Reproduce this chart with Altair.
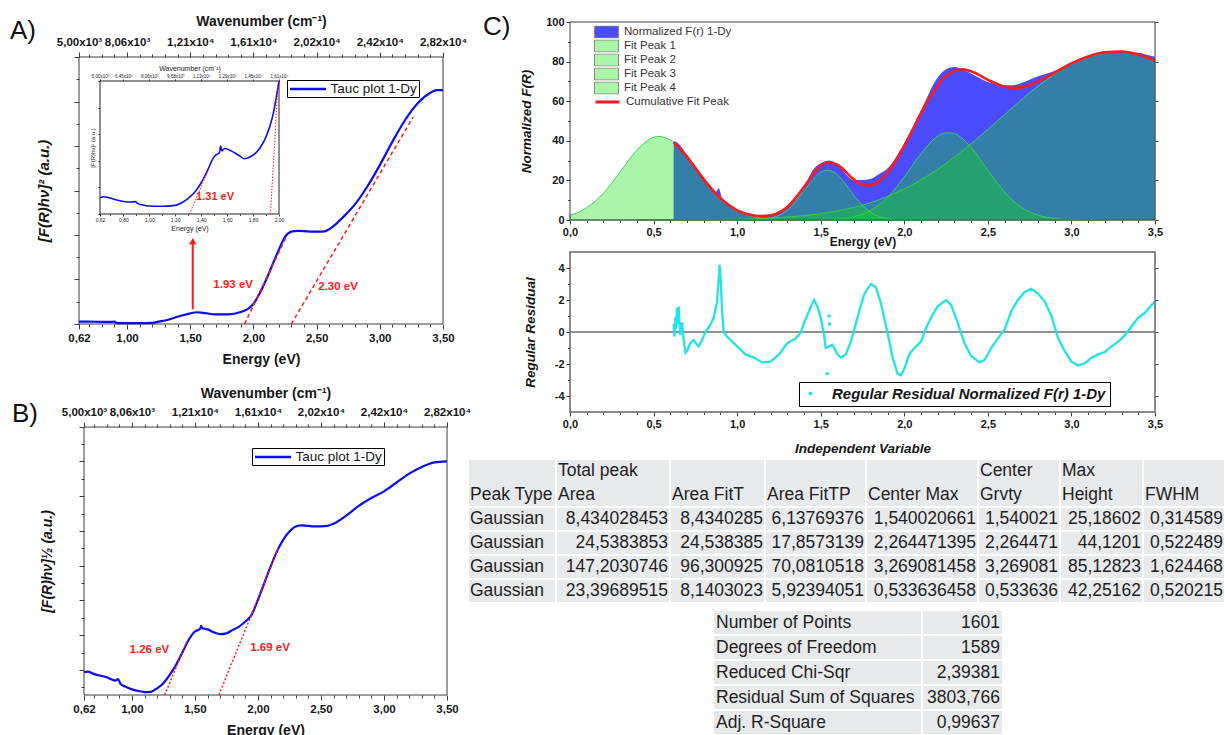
import altair as alt
import pandas as pd

W, H = 1225, 735
FONT = "Liberation Sans"
TXT = "#161616"
AX = "#3c3c3c"
BLUE = "#0b0bf5"
RED = "#ff1a1a"
CYAN = "#22e3e8"
DATA_FILL = "#4b4bff"
PEAK_FILL = "#0ce20c"
PEAK_LINE = "#3bcf57"
LEG_GREEN = "#aaf5aa"
CELL = "#e8e9eb"
EMSP = "\u2003"

# ---------------- values ----------------
# Panel A: Tauc plot [F(R)hv]^2 (a.u.)
A_ENERGY = [0.62, 0.70, 0.80, 0.88, 0.90, 0.92, 1.00, 1.10, 1.20, 1.25, 1.30, 1.40, 1.50, 1.55, 1.60, 1.70,
            1.80, 1.90, 1.95, 2.00, 2.05, 2.10, 2.15, 2.20, 2.25, 2.30, 2.35, 2.45, 2.55, 2.60, 2.65, 2.70,
            2.80, 2.90, 3.00, 3.10, 3.20, 3.30, 3.40, 3.45, 3.50]
A_SIGNAL = [0.9, 0.9, 0.8, 0.8, 0.9, 0.3, 0.3, 0.3, 0.4, 0.9, 1.3, 2.7, 4.0, 4.4, 4.2, 3.6,
            3.6, 4.5, 5.5, 7.5, 11.5, 16.5, 22.1, 27.7, 32.6, 34.6, 34.9, 34.6, 34.6, 35.5, 37.3, 39.6,
            44.6, 51.4, 59.5, 68.3, 76.4, 82.7, 86.6, 87.6, 87.6]
A_TAN_E0 = [1.93, 2.30]
A_TAN_E1 = [2.26, 3.265]
A_TAN_Y1 = [32.7, 77.6]
A_GAP_TEXT = ["1.93 eV", "2.30 eV"]
A_GAP_E = [1.84, 2.67]
A_GAP_Y = [14.6, 13.9]
A_ARROW_E = [1.52]
A_ARROW_Y0 = [5.5]
A_ARROW_Y1 = [31.0]

# Inset of panel A
I_ENERGY = [0.62, 0.65, 0.75, 0.85, 0.89, 0.91, 0.95, 1.00, 1.10, 1.20, 1.25, 1.30, 1.35, 1.40, 1.45,
            1.50, 1.52, 1.54, 1.55, 1.56, 1.58, 1.62, 1.70, 1.73, 1.78, 1.85, 1.90, 1.95, 1.98, 2.00]
I_SIGNAL = [12.3, 13.0, 10.5, 9.0, 9.3, 8.0, 6.8, 6.0, 5.8, 6.5, 8.5, 11.8, 16.3, 23.5, 33.0,
            43.0, 44.8, 46.0, 51.0, 47.5, 49.3, 48.0, 43.5, 41.5, 43.0, 49.3, 58.0, 73.0, 88.0, 100.0]
I_TAN_E0 = [1.31, 1.934]
I_TAN_E1 = [1.46, 1.994]
I_TAN_Y1 = [34.0, 100.0]
I_GAP_TEXT = ["1.31 eV"]
I_GAP_E = [1.507]
I_GAP_Y = [13.0]

# Panel B: [F(R)hv]^(1/2) (a.u.)
B_ENERGY = [0.62, 0.65, 0.70, 0.80, 0.87, 0.89, 0.91, 0.95, 1.00, 1.05, 1.10, 1.15, 1.20, 1.25, 1.30,
            1.35, 1.40, 1.45, 1.50, 1.54, 1.55, 1.56, 1.60, 1.65, 1.70, 1.75, 1.80, 1.85, 1.90, 1.95,
            2.00, 2.05, 2.10, 2.15, 2.20, 2.25, 2.30, 2.35, 2.45, 2.55, 2.60, 2.70, 2.80, 2.90, 3.00,
            3.10, 3.20, 3.30, 3.40, 3.50]
B_SIGNAL = [8.5, 8.7, 7.8, 6.6, 5.4, 5.9, 4.1, 3.1, 2.1, 1.5, 1.1, 1.2, 2.5, 4.4, 7.5,
            11.2, 15.8, 20.5, 23.7, 24.6, 25.8, 24.9, 24.5, 23.4, 22.7, 23.0, 24.3, 25.5, 27.4, 29.9,
            35.5, 41.7, 47.9, 53.5, 57.9, 61.0, 62.9, 63.3, 62.9, 63.1, 63.9, 66.9, 70.6, 73.5, 76.0,
            79.3, 82.6, 85.1, 86.8, 87.2]
B_TAN_E0 = [1.26, 1.69]
B_TAN_E1 = [1.435, 2.162]
B_TAN_Y1 = [19.9, 54.8]
B_GAP_TEXT = ["1.26 eV", "1.69 eV"]
B_GAP_E = [1.139, 2.096]
B_GAP_Y = [16.8, 17.7]

# Panel C: normalized F(R), fitted peaks, cumulative fit
C_ENERGY = [0.62, 0.65, 0.70, 0.80, 0.87, 0.89, 0.91, 1.00, 1.10, 1.15, 1.20, 1.30, 1.40, 1.45, 1.50,
            1.55, 1.60, 1.70, 1.75, 1.80, 1.85, 1.90, 2.00, 2.10, 2.20, 2.25, 2.30, 2.35, 2.40, 2.50,
            2.60, 2.65, 2.70, 2.80, 2.90, 3.00, 3.10, 3.20, 3.30, 3.40, 3.45, 3.50]
C_SIGNAL = [40.0, 38.5, 33.0, 21.5, 14.0, 16.0, 11.0, 5.0, 2.3, 1.8, 2.2, 6.5, 16.0, 24.9, 28.6,
            30.0, 27.7, 20.2, 20.2, 20.8, 23.2, 26.0, 38.7, 55.5, 72.0, 76.1, 77.3, 76.1, 74.0, 69.7,
            68.0, 68.0, 69.2, 72.6, 75.3, 79.0, 82.0, 84.4, 84.9, 84.5, 83.5, 82.4]
FIT_ENERGY = [0.62, 0.70, 0.80, 0.90, 1.00, 1.10, 1.15, 1.20, 1.30, 1.40, 1.45, 1.50, 1.55, 1.60, 1.70,
              1.75, 1.80, 1.85, 1.90, 2.00, 2.05, 2.10, 2.15, 2.20, 2.25, 2.30, 2.35, 2.40, 2.50, 2.60,
              2.65, 2.70, 2.80, 2.90, 3.00, 3.10, 3.20, 3.30, 3.40, 3.50]
FIT_SIGNAL = [39.2, 31.9, 20.5, 11.0, 4.9, 2.3, 2.0, 2.4, 6.6, 16.7, 22.7, 27.4, 29.2, 27.9, 20.4,
              17.8, 17.5, 19.7, 24.0, 37.5, 45.6, 53.8, 61.4, 67.9, 72.7, 75.3, 76.1, 75.1, 70.8, 67.3,
              66.7, 67.0, 70.0, 74.5, 79.1, 82.6, 84.7, 85.1, 83.6, 80.5]
P1_E = [0.95, 1.10, 1.20, 1.30, 1.35, 1.40, 1.45, 1.50, 1.54, 1.60, 1.65, 1.70, 1.75, 1.80, 1.90, 2.00, 2.15]
P1_Y = [0.0, 0.11, 0.99, 5.0, 9.2, 14.5, 20.1, 24.1, 25.2, 22.8, 17.9, 12.3, 7.3, 3.8, 0.67, 0.07, 0.0]
P2_E = [1.40, 1.60, 1.70, 1.80, 1.90, 2.00, 2.10, 2.20, 2.26, 2.30, 2.40, 2.50, 2.60, 2.70, 2.80, 2.90, 3.00, 3.20]
P2_Y = [0.02, 0.5, 1.7, 4.9, 11.4, 21.7, 33.5, 42.3, 44.1, 43.6, 36.6, 25.1, 14.1, 6.4, 2.4, 0.73, 0.18, 0.0]
P3_E = [0.40, 0.60, 0.80, 1.00, 1.20, 1.40, 1.60, 1.80, 2.00, 2.20, 2.40, 2.60, 2.80, 3.00, 3.20, 3.27, 3.40, 3.50]
P3_Y = [0.01, 0.05, 0.14, 0.38, 0.95, 2.2, 4.6, 8.8, 15.7, 25.6, 38.5, 53.2, 67.6, 78.9, 84.7, 85.1, 83.6, 80.5]
P4_E = [0.0, 0.10, 0.20, 0.30, 0.40, 0.50, 0.53, 0.60, 0.70, 0.80, 0.90, 1.00, 1.10, 1.20, 1.30, 1.45]
P4_Y = [2.3, 6.2, 13.5, 24.2, 35.2, 41.8, 42.2, 40.4, 31.8, 20.4, 10.7, 4.6, 1.6, 0.45, 0.1, 0.0]
C_NAMES = ["Normalized F(r) 1-Dy", "Fit Peak 1", "Fit Peak 2", "Fit Peak 3", "Fit Peak 4"]
FIT_NAME = "Cumulative Fit Peak"

# Residuals
R_ENERGY = [0.620, 0.625, 0.630, 0.635, 0.640, 0.645, 0.650, 0.655, 0.660, 0.670,
            0.680, 0.690, 0.700, 0.720, 0.740, 0.760, 0.770, 0.790, 0.810, 0.840,
            0.860, 0.880, 0.890, 0.895, 0.900, 0.910, 0.920, 0.940, 0.970, 1.000,
            1.050, 1.100, 1.150, 1.200, 1.250, 1.300, 1.350, 1.380, 1.400, 1.430,
            1.450, 1.460, 1.480, 1.500, 1.520, 1.530, 1.570, 1.600, 1.620, 1.650,
            1.680, 1.700, 1.730, 1.760, 1.800, 1.830, 1.860, 1.900, 1.930, 1.960,
            1.980, 2.000, 2.030, 2.060, 2.100, 2.130, 2.170, 2.200, 2.250, 2.280,
            2.320, 2.360, 2.400, 2.450, 2.480, 2.520, 2.560, 2.600, 2.640, 2.680,
            2.720, 2.760, 2.800, 2.840, 2.880, 2.920, 2.960, 3.000, 3.040, 3.080,
            3.120, 3.160, 3.200, 3.240, 3.280, 3.320, 3.360, 3.400, 3.440, 3.480, 3.500]
R_VALUE = [0.5, -0.3, 0.9, 0.2, 1.5, 0.5, 1.6, 0.6, -0.2, 0.6,
           -0.5, -1.3, -1.2, -0.7, -0.5, -0.8, -0.9, -0.5, 0.0, 0.46,
           0.9, 1.9, 3.4, 4.2, 3.6, 1.3, 0.0, -0.3, -0.6, -0.9,
           -1.4, -1.6, -1.9, -1.85, -1.4, -0.7, -0.4, -0.06, 0.57, 1.3,
           1.8, 2.0, 1.6, 0.9, -0.2, -1.0, -0.8, -1.4, -1.6, -1.4,
           -0.6, 0.15, 1.3, 2.35, 3.0, 2.8, 1.8, -0.06, -1.6, -2.6,
           -2.7, -2.3, -1.4, -1.0, -0.6, 0.25, 1.1, 1.6, 2.0, 1.7,
           0.57, -0.7, -1.5, -1.9, -1.75, -1.0, -0.4, 0.15, 1.3, 2.0,
           2.5, 2.7, 2.4, 1.9, 1.0, -0.4, -1.2, -1.85, -2.1, -1.95,
           -1.6, -1.4, -1.25, -0.9, -0.6, -0.2, 0.36, 0.9, 1.2, 1.7, 1.9]
R_OUT_E = [1.538, 1.550, 1.553]
R_OUT_Y = [-2.6, 1.0, 0.5]
R_NAME = "Regular Residual Normalized F(r) 1-Dy"

# Tables
TAB_HEAD_TOP = ["", "Total peak", "", "", "", "Center", "Max", ""]
TAB_HEAD_BOTTOM = ["Peak Type", "Area", "Area FitT", "Area FitTP", "Center Max", "Grvty", "Height", "FWHM"]
PEAK_TYPE = ["Gaussian", "Gaussian", "Gaussian", "Gaussian"]
TOTAL_AREA = ["8,434028453", "24,5383853", "147,2030746", "23,39689515"]
AREA_FITT = ["8,4340285", "24,538385", "96,300925", "8,1403023"]
AREA_FITTP = ["6,13769376", "17,8573139", "70,0810518", "5,92394051"]
CENTER_MAX = ["1,540020661", "2,264471395", "3,269081458", "0,533636458"]
CENTER_GRVTY = ["1,540021", "2,264471", "3,269081", "0,533636"]
MAX_HEIGHT = ["25,18602", "44,1201", "85,12823", "42,25162"]
FWHM = ["0,314589", "0,522489", "1,624468", "0,520215"]
STAT_NAMES = ["Number of Points", "Degrees of Freedom", "Reduced Chi-Sqr", "Residual Sum of Squares", "Adj. R-Square"]
STAT_VALUES = ["1601", "1589", "2,39381", "3803,766", "0,99637"]

# Axis tick labels
E_MAJ = [0.62, 1.0, 1.5, 2.0, 2.5, 3.0, 3.5]
E_LAB = ["0,62", "1,00", "1,50", "2,00", "2,50", "3,00", "3,50"]
WN_LAB = ["5,00x10³", "8,06x10³", "1,21x10⁴", "1,61x10⁴", "2,02x10⁴", "2,42x10⁴", "2,82x10⁴"]
I_MAJ = [0.62, 0.8, 1.0, 1.2, 1.4, 1.6, 1.8, 2.0]
I_LAB = ["0,62", "0,80", "1,00", "1,20", "1,40", "1,60", "1,80", "2,00"]
I_WN = ["5,00x10³", "6,45x10³", "8,06x10³", "9,68x10³", "1,13x10⁴", "1,29x10⁴", "1,45x10⁴", "1,61x10⁴"]
C_MAJ = [0.0, 0.5, 1.0, 1.5, 2.0, 2.5, 3.0, 3.5]
C_LAB = ["0,0", "0,5", "1,0", "1,5", "2,0", "2,5", "3,0", "3,5"]
CY_MAJ = [0, 20, 40, 60, 80, 100]
CY_LAB = ["0", "20", "40", "60", "80", "100"]
RY_MAJ = [-4, -2, 0, 2, 4]
RY_LAB = ["-4", "-2", "0", "2", "4"]

# ---------------- layout (pixel ranges of each panel) ----------------
PANELS = {
    "A": {"xd": [0.62, 3.5], "xr": [79, 443], "yd": [0, 100], "yr": [324, 57]},
    "I": {"xd": [0.62, 2.0], "xr": [100, 279], "yd": [0, 100], "yr": [214, 81]},
    "B": {"xd": [0.62, 3.5], "xr": [84, 447], "yd": [0, 100], "yr": [695, 427]},
    "C": {"xd": [0.0, 3.5], "xr": [570, 1155], "yd": [0, 100], "yr": [220, 22]},
    "R": {"xd": [0.0, 3.5], "xr": [570, 1155], "yd": [-5, 5], "yr": [412, 252]},
    "P": {"xd": [0, W], "xr": [0, W], "yd": [0, H], "yr": [0, H]},
}
A_YMAJ = [0, 16.7, 33.3, 50, 66.7, 83.3, 100]
A_YMIN = [8.3, 25, 41.7, 58.3, 75, 91.7]
B_YMAJ = [9.3, 22.4, 35.3, 48.3, 61.1, 74.1, 87.2, 100]
B_YMIN = [2.8, 15.8, 28.8, 41.8, 54.7, 67.6, 80.6, 93.6]
T1_COL_EDGES = [468, 556, 670, 765, 866, 978, 1060, 1143, 1225]
T1_ROW_EDGES = [459, 507, 531, 555, 579, 603]
T1_HEAD_Y = [471, 495]
T2_COL_EDGES = [713, 922, 1003]
T2_ROW_EDGES = [610, 635, 660, 685, 710, 735]
PANEL_LABELS = ["A)", "B)", "C)"]
PANEL_LABEL_X = [10, 12, 483]
PANEL_LABEL_Y = [31, 414, 27]


def minors(lo, hi, step, majors):
    n = int(round((hi - lo) / step))
    out = []
    for i in range(n + 1):
        v = round(lo + i * step, 3)
        if all(abs(v - m) > 1e-9 for m in majors):
            out.append(v)
    return out


def sx(p):
    d = PANELS[p]
    return alt.Scale(domain=d["xd"], range=d["xr"], nice=False, zero=False)


def sy(p):
    d = PANELS[p]
    return alt.Scale(domain=d["yd"], range=d["yr"], nice=False, zero=False)


def X(field, p):
    return alt.X(f"{field}:Q", scale=sx(p), axis=None)


def Y(field, p):
    return alt.Y(f"{field}:Q", scale=sy(p), axis=None)


def js_num(vals):
    return "[" + ",".join(repr(round(float(v), 6)) for v in vals) + "]"


def js_str(vals):
    return "[" + ",".join("'" + s + "'" for s in vals) + "]"


def axis_layer(p, ch, orient, pos, values, labels=None, title=None, tick=5, lab_size=11.5, lab_pad=2,
               lab_weight="bold", title_size=14, title_pad=6, title_style="normal", title_weight="bold"):
    offset = {"bottom": pos - H, "top": -pos, "left": -pos, "right": pos - W}[orient]
    vals = [float(v) for v in values]
    kw = dict(orient=orient, offset=offset, values=vals, domain=False, grid=False, ticks=True,
              tickSize=tick, tickColor=AX, tickWidth=1, minExtent=0, maxExtent=500,
              labelOverlap=False, labelFlush=False, labelBound=False, labelLimit=0)
    if labels is None:
        kw["labels"] = False
    else:
        kw.update(labelExpr=f"{js_str(labels)}[indexof({js_num(vals)}, datum.value)]",
                  labelFont=FONT, labelFontSize=lab_size, labelFontWeight=lab_weight,
                  labelColor=TXT, labelPadding=lab_pad)
    if title is None:
        kw["title"] = None
    else:
        kw.update(title=title, titleFont=FONT, titleFontSize=title_size, titleFontWeight=title_weight,
                  titleFontStyle=title_style, titleColor=TXT, titlePadding=title_pad)
    d = PANELS[p]
    if ch == "x":
        df = pd.DataFrame({"v": d["xd"]})
        enc = {"x": alt.X("v:Q", scale=sx(p), axis=alt.Axis(**kw))}
    else:
        df = pd.DataFrame({"v": d["yd"]})
        enc = {"y": alt.Y("v:Q", scale=sy(p), axis=alt.Axis(**kw))}
    return alt.Chart(df).mark_point(opacity=0).encode(**enc)


def frame(p, white=False, color=AX, width=1.0):
    d = PANELS[p]
    df = pd.DataFrame({"x0": [d["xd"][0]], "x1": [d["xd"][1]], "y0": [d["yd"][0]], "y1": [d["yd"][1]]})
    return alt.Chart(df).mark_rect(fill="white", fillOpacity=1 if white else 0, stroke=color,
                                   strokeWidth=width).encode(x=X("x0", p), x2="x1", y=Y("y0", p), y2="y1")


def texts(p, labels, xs, ys, size, color=TXT, weight="bold", align="center", style="normal"):
    df = pd.DataFrame({"t": labels, "x": xs, "y": ys})
    return alt.Chart(df).mark_text(font=FONT, fontSize=size, fontWeight=weight, fontStyle=style, color=color,
                                   align=align, baseline="middle").encode(x=X("x", p), y=Y("y", p), text="t:N")


def segments(p, e0, e1, y1, dash, width=1.5):
    df = pd.DataFrame({"e0": e0, "e1": e1, "y0": [0.0] * len(e0), "y1": y1})
    return alt.Chart(df).mark_rule(color=RED, strokeWidth=width, strokeDash=dash).encode(
        x=X("e0", p), x2="e1", y=Y("y0", p), y2="y1")


def tauc_legend(x, y):
    return alt.Legend(orient="none", legendX=x, legendY=y, title=None, symbolType="M-1,0H5", symbolSize=144,
                      symbolStrokeWidth=2.5, labelOffset=27, labelFont=FONT, labelFontSize=13.5,
                      labelColor=TXT, strokeColor="black", padding=1.5, labelLimit=0)


layers = []

# ---------------- Panel A ----------------
dfA = pd.DataFrame({"E": A_ENERGY, "Y": A_SIGNAL, "s": "Tauc plot 1-Dy"})
layers.append(frame("A"))
layers.append(alt.Chart(dfA).mark_line(strokeWidth=2.2, interpolate="monotone").encode(
    x=X("E", "A"), y=Y("Y", "A"),
    color=alt.Color("s:N", scale=alt.Scale(domain=["Tauc plot 1-Dy"], range=[BLUE]), legend=tauc_legend(287, 80))))
layers.append(segments("A", A_TAN_E0, A_TAN_E1, A_TAN_Y1, [4, 3]))
layers.append(texts("A", A_GAP_TEXT, A_GAP_E, A_GAP_Y, 11.5, RED))
dfArrow = pd.DataFrame({"E": A_ARROW_E, "y0": A_ARROW_Y0, "y1": A_ARROW_Y1})
layers.append(alt.Chart(dfArrow).mark_rule(color=RED, strokeWidth=2).encode(x=X("E", "A"), y=Y("y0", "A"), y2="y1"))
layers.append(alt.Chart(dfArrow).mark_point(shape="triangle-up", filled=True, size=55, color=RED, opacity=1).encode(
    x=X("E", "A"), y=Y("y1", "A")))
layers += [
    axis_layer("A", "x", "bottom", 324, E_MAJ, labels=E_LAB, title="Energy (eV)", tick=5, lab_pad=3, title_pad=9),
    axis_layer("A", "x", "bottom", 324, minors(0.7, 3.4, 0.1, E_MAJ), tick=3),
    axis_layer("A", "x", "top", 57, E_MAJ, labels=WN_LAB, title="Wavenumber (cm⁻¹)", tick=5, lab_pad=5, title_pad=8),
    axis_layer("A", "x", "top", 57, minors(0.7, 3.4, 0.1, E_MAJ), tick=3),
    axis_layer("A", "y", "left", 79, A_YMAJ, title="[F(R)hν]² (a.u.)", tick=5, title_size=15, title_pad=22,
               title_style="italic"),
    axis_layer("A", "y", "left", 79, A_YMIN, tick=3),
]

# ---------------- Inset ----------------
dfI = pd.DataFrame({"E": I_ENERGY, "Y": I_SIGNAL})
layers.append(frame("I", white=True, color="#222"))
layers.append(alt.Chart(dfI).mark_line(strokeWidth=1.6, color=BLUE, interpolate="monotone").encode(
    x=X("E", "I"), y=Y("Y", "I")))
layers.append(segments("I", I_TAN_E0, I_TAN_E1, I_TAN_Y1, [1.5, 1.5], width=1))
layers.append(texts("I", I_GAP_TEXT, I_GAP_E, I_GAP_Y, 11, RED))
layers += [
    axis_layer("I", "x", "bottom", 214, I_MAJ, labels=I_LAB, title="Energy (eV)", tick=2, lab_size=5,
               lab_weight="normal", lab_pad=1, title_size=7, title_pad=2, title_weight="normal"),
    axis_layer("I", "x", "bottom", 214, minors(0.7, 1.9, 0.2, I_MAJ), tick=1.5),
    axis_layer("I", "x", "top", 81, I_MAJ, labels=I_WN, title="Wavenumber (cm⁻¹)", tick=2, lab_size=4.5,
               lab_weight="normal", lab_pad=1, title_size=7, title_pad=2, title_weight="normal"),
    axis_layer("I", "y", "left", 100, [0, 20, 40, 60, 80, 100], title="[F(R)hν]² (a.u.)", tick=2,
               title_size=6, title_pad=2, title_weight="normal"),
]

# ---------------- Panel B ----------------
dfB = pd.DataFrame({"E": B_ENERGY, "Y": B_SIGNAL, "s": "Tauc plot 1-Dy "})
layers.append(frame("B"))
layers.append(alt.Chart(dfB).mark_line(strokeWidth=2.2, interpolate="monotone").encode(
    x=X("E", "B"), y=Y("Y", "B"),
    color=alt.Color("s:N", scale=alt.Scale(domain=["Tauc plot 1-Dy "], range=[BLUE]), legend=tauc_legend(252, 448))))
layers.append(segments("B", B_TAN_E0, B_TAN_E1, B_TAN_Y1, [2, 2]))
layers.append(texts("B", B_GAP_TEXT, B_GAP_E, B_GAP_Y, 11.5, RED))
layers += [
    axis_layer("B", "x", "bottom", 695, E_MAJ, labels=E_LAB, title="Energy (eV)", tick=5, lab_pad=3, title_pad=9),
    axis_layer("B", "x", "bottom", 695, minors(0.7, 3.4, 0.1, E_MAJ), tick=3),
    axis_layer("B", "x", "top", 427, E_MAJ, labels=WN_LAB, title="Wavenumber (cm⁻¹)", tick=5, lab_pad=5, title_pad=6),
    axis_layer("B", "x", "top", 427, minors(0.7, 3.4, 0.1, E_MAJ), tick=3),
    axis_layer("B", "y", "left", 84, B_YMAJ, title="[F(R)hν]½ (a.u.)", tick=5, title_pad=24, title_style="italic"),
    axis_layer("B", "y", "left", 84, B_YMIN, tick=3),
]

# ---------------- Panel C (fit) ----------------
dfC = pd.DataFrame({"E": C_ENERGY, "Y": C_SIGNAL, "s": C_NAMES[0]})
dfP = pd.concat([
    pd.DataFrame({"E": P4_E, "Y": P4_Y, "peak": "Fit Peak 4"}),
    pd.DataFrame({"E": P3_E, "Y": P3_Y, "peak": "Fit Peak 3"}),
    pd.DataFrame({"E": P2_E, "Y": P2_Y, "peak": "Fit Peak 2"}),
    pd.DataFrame({"E": P1_E, "Y": P1_Y, "peak": "Fit Peak 1"}),
])
dfFit = pd.DataFrame({"E": FIT_ENERGY, "Y": FIT_SIGNAL, "s": FIT_NAME})
layers.append(alt.Chart(dfC).mark_area(opacity=1, interpolate="monotone").encode(
    x=X("E", "C"), y=Y("Y", "C"), y2=alt.datum(0),
    fill=alt.Fill("s:N", scale=alt.Scale(domain=C_NAMES, range=[DATA_FILL] + [LEG_GREEN] * 4),
                  legend=alt.Legend(orient="none", legendX=594, legendY=25.5, title=None,
                                    symbolType="M-1,-1H3V1H-1Z", symbolSize=144, symbolStrokeColor="#8c8c8c",
                                    symbolStrokeWidth=1, symbolOpacity=1, labelOffset=17, rowPadding=1,
                                    clipHeight=13, labelFont=FONT, labelFontSize=11.5, labelColor="#333",
                                    padding=0, labelLimit=0))))
layers.append(alt.Chart(dfP).mark_area(fill=PEAK_FILL, fillOpacity=0.35, stroke=PEAK_LINE, strokeWidth=1,
                                       interpolate="monotone").encode(
    x=X("E", "C"), y=Y("Y", "C"), y2=alt.datum(0), detail="peak:N"))
layers.append(alt.Chart(dfFit).mark_line(strokeWidth=2.6, interpolate="monotone").encode(
    x=X("E", "C"), y=Y("Y", "C"),
    stroke=alt.Stroke("s:N", scale=alt.Scale(domain=[FIT_NAME], range=[RED]),
                      legend=alt.Legend(orient="none", legendX=594, legendY=95.5, title=None, symbolType="M-1,0H3",
                                        symbolSize=144, symbolStrokeWidth=3, labelOffset=17, clipHeight=13,
                                        labelFont=FONT, labelFontSize=11.5, labelColor="#333", padding=0,
                                        labelLimit=0))))
layers.append(frame("C"))
layers += [
    axis_layer("C", "x", "bottom", 220, C_MAJ, labels=C_LAB, title="Energy (eV)", tick=4, lab_size=11, lab_pad=2,
               title_size=12, title_pad=-1),
    axis_layer("C", "x", "bottom", 220, minors(0.1, 3.4, 0.1, C_MAJ), tick=2.5),
    axis_layer("C", "y", "left", 570, CY_MAJ, labels=CY_LAB, title="Normalized F(R)", tick=4, lab_size=11,
               lab_pad=2, title_size=13.5, title_pad=12, title_style="italic"),
    axis_layer("C", "y", "left", 570, [10, 30, 50, 70, 90], tick=2.5),
    axis_layer("C", "y", "right", 1155, CY_MAJ, tick=3),
]

# ---------------- Panel C (residuals) ----------------
dfR = pd.DataFrame({"E": R_ENERGY, "Y": R_VALUE})
dfRo = pd.DataFrame({"E": R_OUT_E, "Y": R_OUT_Y, "s": R_NAME})
dfZero = pd.DataFrame({"x0": [PANELS["R"]["xd"][0]], "x1": [PANELS["R"]["xd"][1]], "y": [0.0]})
layers.append(alt.Chart(dfZero).mark_rule(color="#222", strokeWidth=1).encode(x=X("x0", "R"), x2="x1", y=Y("y", "R")))
layers.append(alt.Chart(dfR).mark_line(color=CYAN, strokeWidth=2.3).encode(x=X("E", "R"), y=Y("Y", "R")))
layers.append(alt.Chart(dfRo).mark_point(filled=True, size=10, opacity=1, shape="square").encode(
    x=X("E", "R"), y=Y("Y", "R"),
    color=alt.Color("s:N", scale=alt.Scale(domain=[R_NAME], range=[CYAN]),
                    legend=alt.Legend(orient="none", legendX=799, legendY=382, title=None, symbolType="circle",
                                      symbolSize=16, labelOffset=14, labelFont=FONT, labelFontSize=15,
                                      labelFontStyle="italic", labelFontWeight="bold", labelColor=TXT,
                                      labelExpr="datum.label + '" + EMSP * 2 + "'",
                                      strokeColor="black", padding=4, labelLimit=0))))
layers.append(frame("R", color="#666", width=1.5))
layers += [
    axis_layer("R", "x", "bottom", 412, C_MAJ, labels=C_LAB, title="Independent Variable", tick=4, lab_size=11,
               lab_pad=2, title_size=13.5, title_pad=12, title_style="italic"),
    axis_layer("R", "x", "bottom", 412, minors(0.1, 3.4, 0.1, C_MAJ), tick=2.5),
    axis_layer("R", "y", "left", 570, RY_MAJ, labels=RY_LAB, title="Regular Residual", tick=4, lab_size=11,
               lab_pad=2, title_size=13.5, title_pad=17, title_style="italic"),
    axis_layer("R", "y", "left", 570, [-3, -1, 1, 3], tick=2.5),
    axis_layer("R", "y", "right", 1155, RY_MAJ, tick=3),
]

# ---------------- Tables ----------------
cols = [PEAK_TYPE, TOTAL_AREA, AREA_FITT, AREA_FITTP, CENTER_MAX, CENTER_GRVTY, MAX_HEIGHT, FWHM]
cells, tl, tr = [], [], []
for r in range(len(T1_ROW_EDGES) - 1):
    for c in range(len(T1_COL_EDGES) - 1):
        cells.append({"x0": T1_COL_EDGES[c], "x1": T1_COL_EDGES[c + 1], "y0": T1_ROW_EDGES[r], "y1": T1_ROW_EDGES[r + 1]})
for c in range(len(TAB_HEAD_BOTTOM)):
    if TAB_HEAD_TOP[c]:
        tl.append({"t": TAB_HEAD_TOP[c], "x": T1_COL_EDGES[c] + 2, "y": T1_HEAD_Y[0]})
    tl.append({"t": TAB_HEAD_BOTTOM[c], "x": T1_COL_EDGES[c] + 2, "y": T1_HEAD_Y[1]})
for r in range(4):
    yc = (T1_ROW_EDGES[r + 1] + T1_ROW_EDGES[r + 2]) / 2
    tl.append({"t": cols[0][r], "x": T1_COL_EDGES[0] + 2, "y": yc})
    for c in range(1, len(cols)):
        tr.append({"t": cols[c][r], "x": T1_COL_EDGES[c + 1] - 2, "y": yc})
for r in range(len(STAT_NAMES)):
    for c in range(len(T2_COL_EDGES) - 1):
        cells.append({"x0": T2_COL_EDGES[c], "x1": T2_COL_EDGES[c + 1], "y0": T2_ROW_EDGES[r], "y1": T2_ROW_EDGES[r + 1]})
    yc = (T2_ROW_EDGES[r] + T2_ROW_EDGES[r + 1]) / 2
    tl.append({"t": STAT_NAMES[r], "x": T2_COL_EDGES[0] + 3, "y": yc})
    tr.append({"t": STAT_VALUES[r], "x": T2_COL_EDGES[2] - 3, "y": yc})

layers.append(alt.Chart(pd.DataFrame(cells)).mark_rect(fill=CELL, stroke="white", strokeWidth=2).encode(
    x=X("x0", "P"), x2="x1", y=Y("y0", "P"), y2="y1"))
dtl = pd.DataFrame(tl)
dtr = pd.DataFrame(tr)
layers.append(texts("P", list(dtl["t"]), list(dtl["x"]), list(dtl["y"]), 17.5, "#1f1f1f", weight="normal", align="left"))
layers.append(texts("P", list(dtr["t"]), list(dtr["x"]), list(dtr["y"]), 17.5, "#1f1f1f", weight="normal", align="right"))

# Panel letters
layers.append(texts("P", PANEL_LABELS, PANEL_LABEL_X, PANEL_LABEL_Y, 26, "#111", weight="normal", align="left"))

chart = alt.layer(*layers).resolve_scale(
    x="independent", y="independent", color="independent", fill="independent", stroke="independent"
).resolve_axis(x="independent", y="independent").resolve_legend(
    color="independent", fill="independent", stroke="independent"
).properties(
    width=W, height=H, autosize=alt.AutoSizeParams(type="none"), padding=0, background="white"
).configure_view(strokeOpacity=0)

chart.save("out.html", embed_options={"renderer": "svg", "actions": False})
